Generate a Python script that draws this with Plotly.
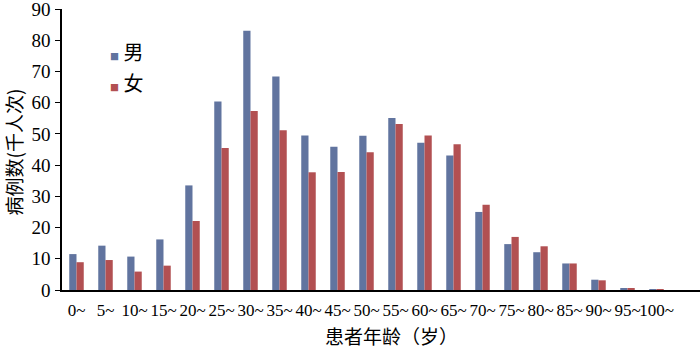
import plotly.graph_objects as go

categories = ["0~", "5~", "10~", "15~", "20~", "25~", "30~", "35~", "40~", "45~",
              "50~", "55~", "60~", "65~", "70~", "75~", "80~", "85~", "90~", "95~", "100~"]
male = [11.5, 14.2, 10.7, 16.2, 33.5, 60.4, 83.0, 68.4, 49.5, 45.9,
        49.4, 55.1, 47.2, 43.1, 25.0, 14.7, 12.1, 8.5, 3.3, 0.6, 0.3]
female = [8.9, 9.6, 5.9, 7.8, 22.1, 45.5, 57.3, 51.2, 37.7, 37.8,
          44.1, 53.2, 49.5, 46.7, 27.3, 17.0, 14.0, 8.5, 3.1, 0.6, 0.1]
y_ticks = [0, 10, 20, 30, 40, 50, 60, 70, 80, 90]
series_names = ["男", "女"]

blue = "#61749f"
red = "#b25052"
serif = "'Liberation Serif', 'Times New Roman', Times, serif"
cjk = "'Noto Sans CJK SC', sans-serif"

fig = go.Figure()
fig.add_trace(go.Bar(x=categories, y=male, name=series_names[0], marker_color=blue,
                     marker_line_width=0, showlegend=False))
fig.add_trace(go.Bar(x=categories, y=female, name=series_names[1], marker_color=red,
                     marker_line_width=0, showlegend=False))

annotations = []
# legend built from text
for name, col, yp in [(series_names[0], blue, 0.847), (series_names[1], red, 0.740)]:
    annotations.append(dict(
        xref="paper", yref="paper", x=0.072, y=yp, xanchor="left", yanchor="middle",
        showarrow=False,
        text=f"<span style='color:{col};font-size:9px'>■</span> {name}",
        font=dict(family=cjk, size=20, color="black"),
    ))
annotations.append(dict(
    xref="paper", yref="paper", x=0.517, y=-0.162, xanchor="center", yanchor="middle",
    showarrow=False, text="患者年龄（岁）", font=dict(family=cjk, size=19, color="black"),
))
annotations.append(dict(
    xref="paper", yref="paper", x=-0.076, y=0.491, xanchor="center", yanchor="middle",
    showarrow=False, textangle=-90, text="病例数(千人次)",
    font=dict(family=cjk, size=19, color="black"),
))

fig.update_layout(
    width=700, height=348,
    margin=dict(l=62, r=0, t=9, b=58),
    plot_bgcolor="white", paper_bgcolor="white",
    barmode="group", bargap=0.5, bargroupgap=0,
    font=dict(family=serif, size=15, color="black"),
    showlegend=False,
    annotations=annotations,
    xaxis=dict(
        type="category", range=[-0.5, 21.5],
        showline=True, linecolor="black", linewidth=2,
        ticks="", showgrid=False, tickfont=dict(family=serif, size=17),
        tickangle=0, ticklabelstandoff=4,
    ),
    yaxis=dict(
        range=[0, 90], tickvals=y_ticks,
        showline=True, linecolor="black", linewidth=1.5,
        ticks="outside", ticklen=5, tickcolor="black", showgrid=False,
        zeroline=False, tickfont=dict(family=serif, size=19),
        ticklabeloverflow="allow", ticklabelstandoff=1,
    ),
)

fig.write_html("out.html")
